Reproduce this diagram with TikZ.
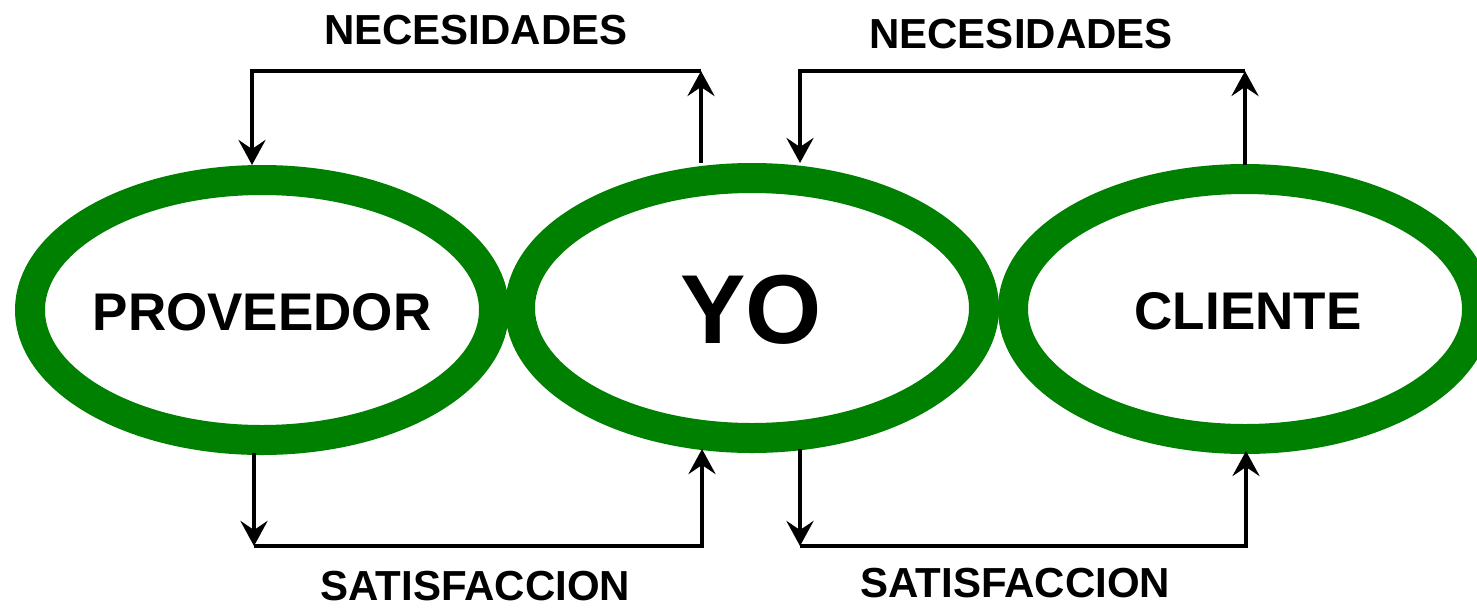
\documentclass[tikz,border=0pt]{standalone}
\usepackage{fontspec}
\setmainfont{Liberation Sans}
\usetikzlibrary{arrows.meta,shapes.geometric}
\definecolor{ringgreen}{RGB}{0,128,0}
\begin{document}
\begin{tikzpicture}[x=1pt,y=-1pt,
  oval/.style={ellipse, draw=ringgreen, line width=30pt, minimum width=464pt, minimum height=260pt, inner sep=0pt, outer sep=0pt},
  ovaltext/.style={inner sep=0pt, font=\fontsize{53}{60}\selectfont\bfseries},
  lab/.style={inner sep=0pt, anchor=base, font=\fontsize{42}{48}\selectfont\bfseries},
  arr/.style={line width=4pt, line join=miter, -{Stealth[length=25pt, width=27pt, inset=9pt]}}]
\useasboundingbox[fill=white] (0,0) rectangle (1477,608);
\node[oval] (prov) at (262,310) {};
\node[oval] (yo) at (752,308) {};
\node[oval] (cli) at (1245,309) {};
\node[ovaltext] (provtxt) at (262,312) {PROVEEDOR};
\node[ovaltext, font=\fontsize{98}{110}\selectfont\bfseries] (yotxt) at (751,310) {YO};
\node[ovaltext] (clitxt) at (1248,311) {CLIENTE};
% coordinates
\coordinate (provTop) at (252,165);
\coordinate (yoTopL) at (701,163);
\coordinate (tr) at (701,71);
\coordinate (yoTopR) at (800,163);
\coordinate (cliTop) at (1245,165);
\coordinate (tr2) at (1245,71);
\coordinate (provBot) at (254,453);
\coordinate (bl) at (254,546);
\coordinate (yoBotL) at (702,449);
\coordinate (yoBotR) at (800,449);
\coordinate (bl2) at (800,546);
\coordinate (cliBot) at (1246,451);
% top left loop
\draw[arr] (yoTopL) -- (tr);
\draw[arr] (tr) -| (provTop);
% top right loop
\draw[arr] (cliTop) -- (tr2);
\draw[arr] (tr2) -| (yoTopR);
% bottom left loop
\draw[arr] (provBot) -- (bl);
\draw[arr] (bl) -| (yoBotL);
% bottom right loop
\draw[arr] (yoBotR) -- (bl2);
\draw[arr] (bl2) -| (cliBot);
% labels
\node[lab] (n1) at (476,44) {NECESIDADES};
\node[lab] (n2) at (1021,48) {NECESIDADES};
\node[lab] (s1) at (475.5,600) {SATISFACCION};
\node[lab] (s2) at (1015.5,597) {SATISFACCION};
\end{tikzpicture}
\end{document}
